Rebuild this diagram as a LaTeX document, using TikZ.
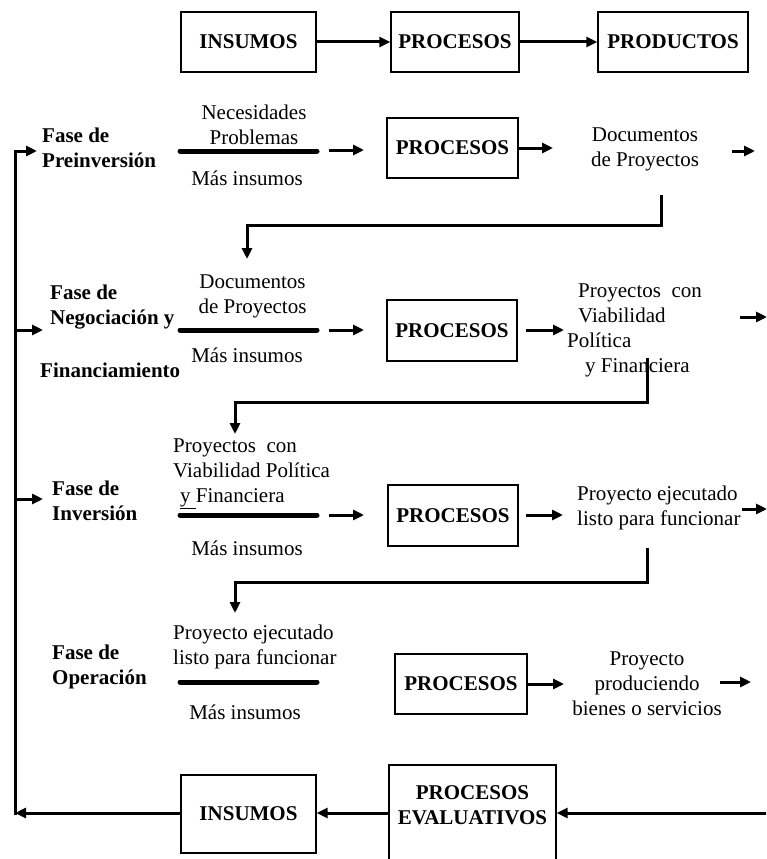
\documentclass[tikz,border=0pt]{standalone}
\usepackage{fontspec}
\setmainfont{Liberation Serif}
\usetikzlibrary{arrows.meta}

\begin{document}
\begin{tikzpicture}[x=1pt,y=-1pt,
  box/.style={draw, line width=1.3pt, inner sep=0pt, align=center,
    font=\bfseries\fontsize{21}{25}\selectfont},
  txt/.style={inner sep=0pt, font=\fontsize{21}{25}\selectfont},
  fase/.style={inner sep=0pt, anchor=west, align=left,
    font=\bfseries\fontsize{21}{25}\selectfont},
  flow/.style={line width=3pt, -{Triangle[length=11pt,width=10pt]}},
  bar/.style={line width=5pt, line cap=round},
]
\clip (0,0) rectangle (766,859);

% ---------- general scheme ----------
\node[box, minimum width=135pt, minimum height=60pt] (tin) at (248.5,42) {INSUMOS};
\node[box, minimum width=128pt, minimum height=60pt] (tpr) at (455,42) {PROCESOS};
\node[box, minimum width=150pt, minimum height=60pt] (tpd) at (673,42) {PRODUCTOS};
\draw[flow] (tin) -- (tpr);
\draw[flow] (tpr) -- (tpd);

% ---------- feedback spine on the left ----------
\coordinate (spb) at (15,814.5);
\coordinate (sp1) at (15,151);
\coordinate (f1t) at (37,151);
\coordinate (sp2) at (15,330);
\coordinate (f2t) at (43,330);
\coordinate (sp3) at (15,499);
\coordinate (f3t) at (43,499);
\draw[flow] (spb) -- (sp1) -- (f1t);
\draw[flow] (sp2) -- (f2t);
\draw[flow] (sp3) -- (f3t);

% ---------- phase 1: preinversion ----------
\node[fase] (f1) at (42,147.5) {Fase de\\Preinversión};
\node[txt, align=center] (in1) at (254,124.5) {Necesidades\\Problemas};
\node[txt] (mi1) at (247,178) {Más insumos};
\coordinate (b1l) at (180,151);
\coordinate (b1r) at (317,151);
\draw[bar] (b1l) -- (b1r);
\coordinate (a1s) at (329,150);
\coordinate (a1e) at (364,150);
\draw[flow] (a1s) -- (a1e);
\node[box, minimum width=131pt, minimum height=60pt] (p1) at (452.5,148) {PROCESOS};
\coordinate (o1a) at (553,148);
\draw[flow] (p1.east) -- (o1a);
\node[txt, align=center] (o1) at (645,149.5) {Documentos\\de Proyectos};
\coordinate (r1s) at (732,151);
\coordinate (r1e) at (755,151);
\draw[flow] (r1s) -- (r1e);
\coordinate (d1a) at (661,195);
\coordinate (d1b) at (661,225);
\coordinate (d1c) at (247,225);
\coordinate (d1d) at (247,259);
\draw[flow] (d1a) -- (d1b) -- (d1c) -- (d1d);

% ---------- phase 2: negotiation and financing ----------
\node[fase] (f2a) at (50,307.5) {Fase de\\Negociación y};
\node[fase] (f2b) at (40,370) {Financiamiento};
\node[txt, align=center] (in2) at (252.5,296) {Documentos\\de Proyectos};
\node[txt] (mi2) at (247,355) {Más insumos};
\coordinate (b2l) at (180,330);
\coordinate (b2r) at (317,330);
\draw[bar] (b2l) -- (b2r);
\coordinate (a2s) at (329,330);
\coordinate (a2e) at (364,330);
\draw[flow] (a2s) -- (a2e);
\node[box, minimum width=130pt, minimum height=61pt] (p2) at (452,330.5) {PROCESOS};
\coordinate (o2s) at (526,330);
\coordinate (o2e) at (564,330);
\draw[flow] (o2s) -- (o2e);
\node[txt, anchor=west, align=left] (o2) at (567,330.5)
  {\hspace*{11pt}Proyectos\ \ con\\\hspace*{11pt}Viabilidad\\Política\\\hspace*{18pt}y Financiera};
\coordinate (r2s) at (740,317);
\coordinate (r2e) at (767,317);
\draw[flow] (r2s) -- (r2e);
\coordinate (d2a) at (647,358);
\coordinate (d2b) at (647,402);
\coordinate (d2c) at (235,402);
\coordinate (d2d) at (235,434);
\draw[flow] (d2a) -- (d2b) -- (d2c) -- (d2d);

% ---------- phase 3: investment ----------
\node[fase] (f3) at (52,500.5) {Fase de\\Inversión};
\node[txt, anchor=west, align=left] (in3) at (173,474)
  {Proyectos\ \ con\\Viabilidad Política\\\hspace*{7pt}\underline{y\ }Financiera};
\node[txt] (mi3) at (247,548) {Más insumos};
\coordinate (b3l) at (180,515);
\coordinate (b3r) at (317,515);
\draw[bar] (b3l) -- (b3r);
\coordinate (a3s) at (329,515);
\coordinate (a3e) at (364,515);
\draw[flow] (a3s) -- (a3e);
\node[box, minimum width=130pt, minimum height=61pt] (p3) at (453,515.5) {PROCESOS};
\coordinate (o3s) at (526,515);
\coordinate (o3e) at (563,515);
\draw[flow] (o3s) -- (o3e);
\node[txt, anchor=west, align=left] (o3) at (577,507.5) {Proyecto ejecutado\\listo para funcionar};
\coordinate (r3s) at (742,509);
\coordinate (r3e) at (767,509);
\draw[flow] (r3s) -- (r3e);
\coordinate (d3a) at (647,548);
\coordinate (d3b) at (647,582);
\coordinate (d3c) at (235,582);
\coordinate (d3d) at (235,613);
\draw[flow] (d3a) -- (d3b) -- (d3c) -- (d3d);

% ---------- phase 4: operation ----------
\node[fase] (f4) at (52,666.5) {Fase de\\Operación};
\node[txt, anchor=west, align=left] (in4) at (173,646.5) {Proyecto ejecutado\\listo para funcionar};
\node[txt] (mi4) at (245,712) {Más insumos};
\coordinate (b4l) at (180,682);
\coordinate (b4r) at (317,682);
\draw[bar] (b4l) -- (b4r);
\node[box, minimum width=132pt, minimum height=60pt] (p4) at (461,684) {PROCESOS};
\coordinate (o4e) at (564,684);
\draw[flow] (p4.east) -- (o4e);
\node[txt, align=center] (o4) at (647,684) {Proyecto\\produciendo\\bienes o servicios};
\coordinate (r4s) at (720,682);
\coordinate (r4e) at (751,682);
\draw[flow] (r4s) -- (r4e);

% ---------- evaluation loop ----------
\node[box, minimum width=167pt, minimum height=110pt] (pe) at (472.5,820)
  {PROCESOS\\EVALUATIVOS\\[5pt]};
\node[box, minimum width=135pt, minimum height=78pt] (bin) at (248.5,814) {INSUMOS};
\coordinate (rin) at (767,813);
\coordinate (spe) at (15,813);
\draw[flow] (rin) -- (pe.east |- rin);
\draw[flow] (pe.west |- rin) -- (bin.east |- rin);
\draw[flow] (bin.west |- rin) -- (spe);
\end{tikzpicture}
\end{document}
